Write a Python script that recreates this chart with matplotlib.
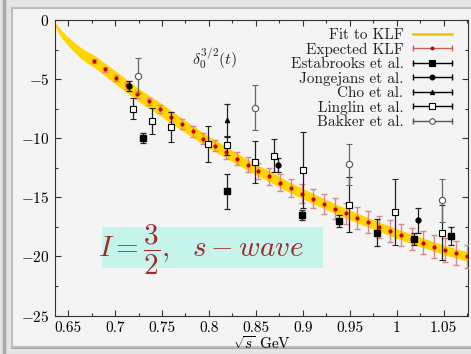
import numpy as np
import matplotlib.pyplot as plt
from matplotlib.lines import Line2D
from matplotlib.legend_handler import HandlerBase
from matplotlib.patches import Rectangle
from matplotlib.ticker import MultipleLocator

plt.rcParams['font.family'] = 'serif'
plt.rcParams['font.serif'] = ['cmr10']
plt.rcParams['mathtext.fontset'] = 'cm'
plt.rcParams['axes.formatter.use_mathtext'] = True

#####################################################################
# data
#####################################################################
# KLF fit band (centre and half width)
fit_x = [0.6335, 0.636, 0.639, 0.643, 0.648, 0.655, 0.663, 0.670,
         0.6773, 0.7007, 0.7237, 0.7479, 0.7710, 0.7939, 0.8181, 0.8411,
         0.8641, 0.8872, 0.9110, 0.9344, 0.9578, 0.9809, 1.0043, 1.0277,
         1.0514, 1.0745, 1.0800]
fit_y = [0.0, -0.35, -0.75, -1.2, -1.65, -2.2, -2.75, -3.15,
         -3.47, -4.89, -6.27, -7.54, -8.81, -10.03, -11.19, -12.25,
         -13.22, -14.21, -15.11, -15.96, -16.75, -17.48, -18.19, -18.84,
         -19.47, -20.0, -20.12]
fit_hw = [0.05, 0.15, 0.25, 0.3, 0.35, 0.4, 0.45, 0.5,
          0.52, 0.55, 0.55, 0.55, 0.52, 0.5, 0.48, 0.46,
          0.45, 0.44, 0.43, 0.42, 0.41, 0.4, 0.4, 0.4,
          0.4, 0.4, 0.4]

# expected KLF points
klf_x = [0.6773, 0.6890, 0.7007, 0.7124, 0.7237, 0.7359, 0.7479, 0.7593,
         0.7710, 0.7827, 0.7939, 0.8064, 0.8181, 0.8295, 0.8411, 0.8524,
         0.8641, 0.8759, 0.8872, 0.8989, 0.9110, 0.9227, 0.9344, 0.9461,
         0.9578, 0.9691, 0.9809, 0.9929, 1.0043, 1.0160, 1.0277, 1.0394,
         1.0514, 1.0631, 1.0745]
klf_y = [-3.47, -4.18, -4.89, -5.53, -6.27, -6.89, -7.54, -8.19,
         -8.81, -9.43, -10.03, -10.62, -11.19, -11.72, -12.25, -12.77,
         -13.22, -13.75, -14.21, -14.69, -15.11, -15.57, -15.96, -16.36,
         -16.75, -17.12, -17.48, -17.86, -18.19, -18.53, -18.84, -19.18,
         -19.47, -19.72, -20.0]
klf_err = [0.15, 0.2, 0.25, 0.28, 0.3, 0.33, 0.36, 0.4,
           0.42, 0.45, 0.48, 0.5, 0.55, 0.58, 0.62, 0.66,
           0.7, 0.74, 0.78, 0.8, 0.82, 0.84, 0.86, 0.88,
           0.9, 0.92, 0.94, 0.95, 0.96, 0.97, 0.98, 0.99,
           1.0, 1.0, 1.0]

# experiments
estab_x = [0.7297, 0.8195, 0.8993, 0.9386, 0.9786, 1.0184, 1.0582]
estab_y = [-9.97, -14.47, -16.5, -17.03, -18.0, -18.55, -18.25]
estab_err = [0.45, 1.48, 0.45, 0.5, 1.15, 0.5, 0.76]

jong_x = [0.7149, 0.8737, 1.0231]
jong_y = [-5.6, -12.29, -16.95]
jong_err = [0.4, 0.6, 1.07]

cho_x = [0.8195]
cho_y = [-8.47]
cho_err = [1.4]

ling_x = [0.7195, 0.7394, 0.7593, 0.7993, 0.8195, 0.8489, 0.8691, 0.8997,
          0.9489, 0.9982, 1.0482]
ling_y = [-7.49, -8.53, -9.04, -10.5, -10.6, -12.0, -11.5, -12.71,
          -15.62, -16.24, -17.99]
ling_err = [0.9, 1.1, 1.25, 1.5, 0.8, 1.8, 1.4, 3.2, 2.3, 2.77, 2.3]

bakk_x = [0.7248, 0.8489, 0.9489, 1.0482]
bakk_y = [-4.7, -7.42, -12.2, -15.25]
bakk_err = [1.5, 1.9, 1.75, 1.8]

#####################################################################
# legend handle that looks like a gnuplot errorbar key
#####################################################################
class ErrKey(HandlerBase):
    def create_artists(self, legend, orig, xd, yd, w, h, fontsize, trans):
        y = h / 2 - yd
        x0, x1 = -xd, -xd + w
        line = Line2D([x0, x1], [y, y], color=orig.get_color(), lw=1.0)
        caps = Line2D([x0, x1], [y, y], ls='none', marker='|', ms=5,
                      mew=1.0, color=orig.get_color())
        mid = Line2D([(x0 + x1) / 2], [y], ls='none',
                     marker=orig.get_marker(), ms=orig.get_markersize(),
                     mfc=orig.get_markerfacecolor(),
                     mec=orig.get_markeredgecolor(), mew=0.8)
        out = [line, caps, mid]
        for a in out:
            a.set_transform(trans)
        return out

#####################################################################
# figure
#####################################################################
fig = plt.figure(figsize=(4.71, 3.54), dpi=100, facecolor='#e4e4e4')

# slide-like frame around the plot
fig.patches.append(Rectangle((12 / 471, 1 - 347 / 354), 1.0, 339 / 354,
                             transform=fig.transFigure, facecolor='#f4f4f4',
                             edgecolor='#bcbcbc', lw=1.5, zorder=-5))
fig.lines.append(Line2D([4 / 471, 4 / 471], [0, 1], transform=fig.transFigure,
                        color='#a8a8a8', lw=2.5, zorder=-5))
fig.lines.append(Line2D([12 / 471, 1], [1 - 347 / 354, 1 - 347 / 354],
                        transform=fig.transFigure, color='#9c9c9c', lw=2,
                        zorder=-5))

ax = fig.add_axes([55 / 471, 1 - 315.5 / 354, 413 / 471, 295.5 / 354])
ax.set_facecolor('none')

lo = np.array(fit_y) - np.array(fit_hw)
hi = np.array(fit_y) + np.array(fit_hw)
ax.fill_between(fit_x, lo, hi, color='#ffd500', lw=0, zorder=2)

ax.errorbar(klf_x, klf_y, yerr=klf_err, fmt='.', color='#cc0000', ms=4,
            ecolor='#d98a8a', elinewidth=1.0, capsize=2.5, capthick=1.0,
            zorder=4)

ekw = dict(elinewidth=0.9, capsize=2.5, capthick=0.9, zorder=5)
ax.errorbar(estab_x, estab_y, yerr=estab_err, fmt='s', color='black', ms=4.5,
            ecolor='#222222', **ekw)
ax.errorbar(jong_x, jong_y, yerr=jong_err, fmt='o', color='black', ms=3.5,
            ecolor='#222222', **ekw)
ax.errorbar(cho_x, cho_y, yerr=cho_err, fmt='^', color='black', ms=3,
            ecolor='#222222', **ekw)
ax.errorbar(ling_x, ling_y, yerr=ling_err, fmt='s', mfc='white', mec='black',
            ms=5, mew=0.8, ecolor='#222222', **ekw)
ax.errorbar(bakk_x, bakk_y, yerr=bakk_err, fmt='o', mfc='white', mec='#555555',
            ms=4.5, mew=0.8, ecolor='#666666', **ekw)

ax.set_xlim(0.636, 1.076)
ax.set_ylim(-25, 0)
ax.xaxis.set_minor_locator(MultipleLocator(0.025))
ax.yaxis.set_major_locator(MultipleLocator(5))
ax.yaxis.set_minor_locator(MultipleLocator(2.5))
ax.set_xticks(np.arange(0.65, 1.06, 0.05))
ax.set_xticklabels(['0.65', '0.7', '0.75', '0.8', '0.85', '0.9', '0.95', '1', '1.05'])
ax.tick_params(which='both', direction='in', top=True, right=True,
               labelsize=11, width=0.8, color='#333333')
ax.tick_params(which='major', length=4, pad=4)
ax.tick_params(which='minor', length=2)
for s in ax.spines.values():
    s.set_linewidth(0.8)
    s.set_color('#333333')
ax.set_xlabel(r'$\sqrt{s}$ GeV', fontsize=11, labelpad=0)

ax.text(0.387, 0.865, r'$\delta_0^{3/2}(t)$', transform=ax.transAxes,
        fontsize=11.5, ha='center', va='center', color='#222222')

# highlighted label
ax.add_patch(Rectangle((0.6859, -20.99), 0.2351, 3.47, facecolor='#c5f5ea',
                       edgecolor='none', zorder=6))
ax.text(0.6815, -19.45, r'$I=\dfrac{3}{2},\ \ s-wave$', fontsize=21,
        color='#a3262a', ha='left', va='center', zorder=7)

handles = [Line2D([], [], color='#f2c200', lw=1.8),
           Line2D([], [], color='#c46060', marker='.', ms=4, mfc='#cc0000', mec='#cc0000'),
           Line2D([], [], color='black', marker='s', ms=4, mfc='black', mec='black'),
           Line2D([], [], color='black', marker='o', ms=3.5, mfc='black', mec='black'),
           Line2D([], [], color='black', marker='^', ms=3, mfc='black', mec='black'),
           Line2D([], [], color='black', marker='s', ms=4.5, mfc='white', mec='black'),
           Line2D([], [], color='#555555', marker='o', ms=4, mfc='white', mec='#555555')]
labels = ['Fit to KLF', 'Expected KLF', 'Estabrooks et al.', 'Jongejans et al.',
          'Cho et al.', 'Linglin et al.', 'Bakker et al.']
hmap = {h: ErrKey() for h in handles[1:]}
leg = ax.legend(handles, labels, handler_map=hmap, loc='upper right',
                bbox_to_anchor=(0.962, 0.972), frameon=False, markerfirst=False,
                fontsize=11, handlelength=2.6, handletextpad=0.6,
                labelspacing=0.04, borderpad=0, borderaxespad=0)
for t in leg.get_texts():
    t.set_color('#222222')

fig.savefig('out.png', dpi=100, facecolor=fig.get_facecolor())
